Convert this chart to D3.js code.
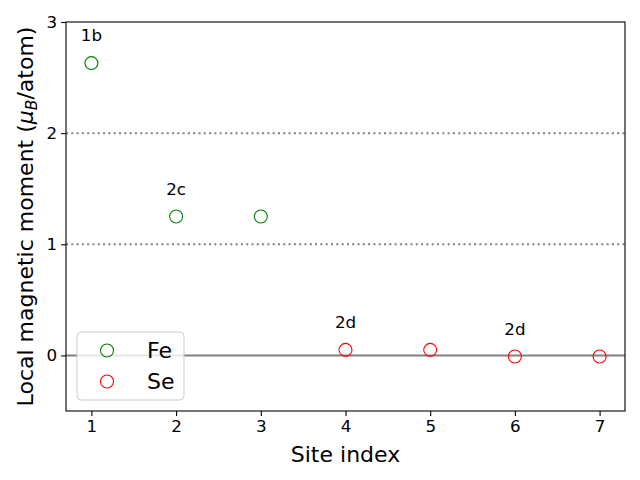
<!DOCTYPE html>
<html><head><meta charset="utf-8">
<script src="https://cdn.jsdelivr.net/npm/d3@7"></script>
<style>body{margin:0;background:#fff}svg{font-family:"DejaVu Sans",sans-serif}</style>
</head><body>
<script>
const feSites = [1, 2, 3];
const feMoments = [2.63, 1.25, 1.25];
const seSites = [4, 5, 6, 7];
const seMoments = [0.05, 0.05, -0.01, -0.01];
const siteLabels = ["1b", "2c", "2d", "2d"];
const siteLabelX = [1, 2, 4, 6];
const siteLabelY = [2.88, 1.50, 0.30, 0.24];
const xTicks = [1, 2, 3, 4, 5, 6, 7];
const yTicks = [0, 1, 2, 3];
const refLines = [1, 2];

const W = 640, H = 480;
const m = {l: 66, r: 15, t: 22, b: 69};
const svg = d3.select("body").append("svg").attr("width", W).attr("height", H);
const x = d3.scaleLinear().domain([0.7, 7.3]).range([m.l, W - m.r]);
const y = d3.scaleLinear().domain([-0.5, 3]).range([H - m.b, m.t]);

// reference lines
svg.selectAll(".ref").data(refLines).enter().append("line")
  .attr("x1", x(0.7)).attr("x2", x(7.3)).attr("y1", d => y(d)).attr("y2", d => y(d))
  .attr("stroke", "#808080").attr("stroke-width", 2).attr("stroke-dasharray", "2,3.3");
svg.append("line").attr("x1", x(0.7)).attr("x2", x(7.3)).attr("y1", y(0)).attr("y2", y(0))
  .attr("stroke", "#808080").attr("stroke-width", 2);

// axes
const gx = svg.append("g").attr("transform", `translate(0,${H - m.b})`)
  .call(d3.axisBottom(x).tickValues(xTicks).tickFormat(d3.format("d")).tickSizeOuter(0).tickSize(4.9).tickPadding(4));
const gy = svg.append("g").attr("transform", `translate(${m.l},0)`)
  .call(d3.axisLeft(y).tickValues(yTicks).tickFormat(d3.format("d")).tickSizeOuter(0).tickSize(4.9).tickPadding(4));
[gx, gy].forEach(g => {
  g.selectAll("text").attr("font-size", "16.7px").attr("fill", "#000").attr("font-family", "DejaVu Sans");
  g.selectAll("line").attr("stroke", "#000").attr("stroke-width", 1.1);
  g.select(".domain").remove();
});
svg.append("rect").attr("x", x(0.7)).attr("y", y(3)).attr("width", x(7.3) - x(0.7)).attr("height", y(-0.5) - y(3))
  .attr("fill", "none").attr("stroke", "#000").attr("stroke-width", 1.1);

// points
svg.selectAll(".fe").data(feSites).enter().append("circle")
  .attr("cx", d => x(d)).attr("cy", (d, i) => y(feMoments[i])).attr("r", 6.5)
  .attr("fill", "none").attr("stroke", "green").attr("stroke-width", 1.1);
svg.selectAll(".se").data(seSites).enter().append("circle")
  .attr("cx", d => x(d)).attr("cy", (d, i) => y(seMoments[i])).attr("r", 6.5)
  .attr("fill", "none").attr("stroke", "red").attr("stroke-width", 1.1);

// annotations
svg.selectAll(".lab").data(siteLabels).enter().append("text")
  .attr("x", (d, i) => x(siteLabelX[i])).attr("y", (d, i) => y(siteLabelY[i]))
  .attr("text-anchor", "middle").attr("dominant-baseline", "central")
  .attr("font-size", "16.7px").text(d => d);

// axis labels
svg.append("text").attr("x", (x(0.7) + x(7.3)) / 2).attr("y", 462)
  .attr("text-anchor", "middle").attr("font-size", "22px").text("Site index");
const yl = svg.append("text").attr("transform", `translate(33,${(y(3) + y(-0.5)) / 2}) rotate(-90)`)
  .attr("text-anchor", "middle").attr("font-size", "22px");
yl.append("tspan").text("Local magnetic moment (");
yl.append("tspan").attr("font-style", "italic").text("μ");
yl.append("tspan").attr("font-style", "italic").attr("font-size", "15.5px").attr("dy", 4).text("B");
yl.append("tspan").attr("dy", -4).text("/atom)");

// legend
const lg = svg.append("g");
lg.append("rect").attr("x", 77).attr("y", 332).attr("width", 107).attr("height", 68).attr("rx", 4)
  .attr("fill", "#fff").attr("fill-opacity", 0.8).attr("stroke", "#ccc").attr("stroke-width", 1);
const legItems = [["Fe", "green"], ["Se", "red"]];
legItems.forEach((d, i) => {
  const cy = 350.5 + i * 31;
  lg.append("circle").attr("cx", 107).attr("cy", cy).attr("r", 6.5)
    .attr("fill", "none").attr("stroke", d[1]).attr("stroke-width", 1.1);
  lg.append("text").attr("x", 147).attr("y", cy).attr("dominant-baseline", "central")
    .attr("font-size", "22px").text(d[0]);
});
</script>
</body></html>
